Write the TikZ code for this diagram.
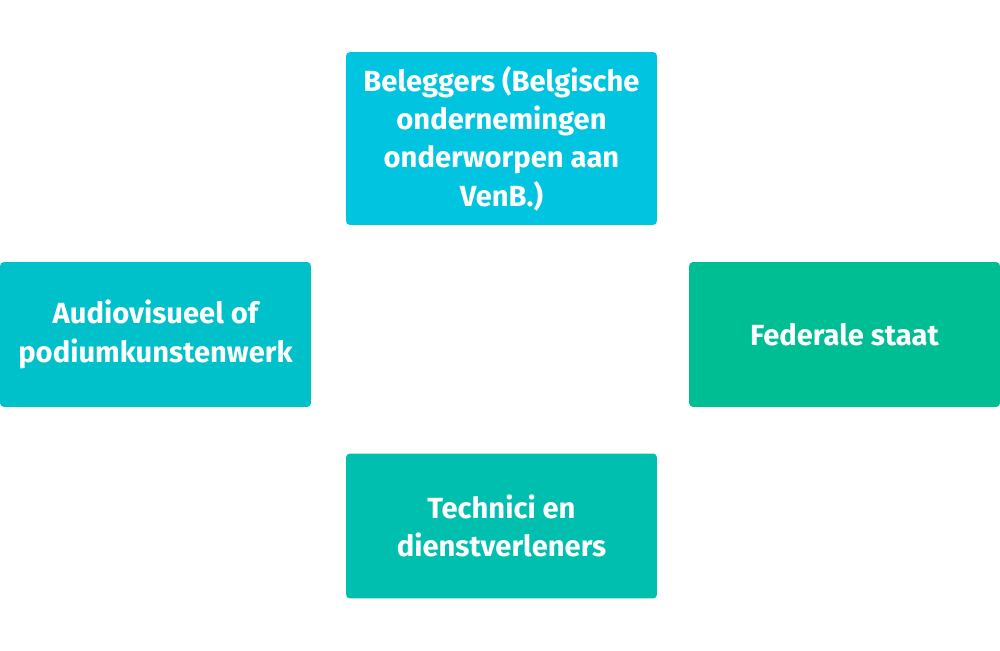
\documentclass[tikz,border=0pt]{standalone}
\usepackage{fontspec}
\setmainfont{Fira Sans}
\usetikzlibrary{positioning}

\definecolor{cyanbox}{HTML}{00C4E0}
\definecolor{tealbox}{HTML}{00C1CA}
\definecolor{greenbox}{HTML}{00BE94}
\definecolor{mintbox}{HTML}{00BFAE}

\begin{document}
\begin{tikzpicture}[x=0.02cm, y=-0.02cm]
    % Style definition for the boxes
    \tikzset{box/.style={rectangle, rounded corners=0.08cm, minimum width=6.22cm,
             align=center, text=white, inner sep=0pt,
             font=\fontsize{16.6}{21.8}\selectfont\bfseries}}

    \useasboundingbox (0,0) rectangle (1000,651);

    % Boxes
    \node (beleggers) [box, fill=cyanbox, minimum height=3.46cm] at (501.5,138.5)
        {Beleggers (Belgische\\ ondernemingen\\ onderworpen aan\\ VenB.)};
    \node (audio) [box, fill=tealbox, minimum height=2.9cm] at (155.5,334.5)
        {Audiovisueel of\\ podiumkunstenwerk};
    \node (staat) [box, fill=greenbox, minimum height=2.9cm] at (844.5,334.5)
        {Federale staat};
    \node (technici) [box, fill=mintbox, minimum height=2.9cm] at (501.5,526)
        {Technici en\\ dienstverleners};

\end{tikzpicture}
\end{document}
